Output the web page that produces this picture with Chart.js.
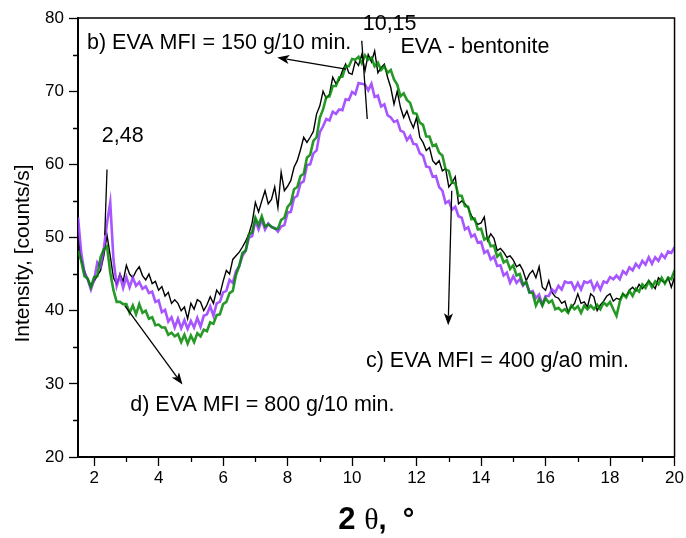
<!DOCTYPE html>
<html>
<head>
<meta charset="utf-8">
<script src="https://cdn.jsdelivr.net/npm/chart.js@4/dist/chart.umd.min.js"></script>
<style>
html,body{margin:0;padding:0;background:#fff;}
#wrap{width:686px;height:538px;position:relative;}
</style>
</head>
<body>
<div id="wrap"><canvas id="c" width="686" height="538"></canvas></div>
<script>
// ---- data (2θ grid from 1.5 to 20, step 0.1) ----
const X_START = 1.5;
const X_STEP = 0.1;
// b) EVA MFI = 150 g/10 min. (black)
const seriesB = [
50.0,47.0,45.5,44.2,43.5,44.0,44.8,45.5,47.5,50.3,
47.5,44.5,43.6,45.0,44.0,46.2,45.0,44.5,45.4,46.0,
44.8,44.2,45.0,43.7,44.0,42.8,43.3,42.0,42.5,41.0,
41.5,41.0,40.0,40.5,38.9,41.0,40.2,41.5,41.2,40.0,
40.8,41.9,41.0,42.8,42.2,44.0,45.5,45.0,47.0,47.5,
48.0,48.7,49.5,50.5,52.0,54.8,53.5,55.0,56.4,54.6,
55.2,56.9,54.1,58.9,56.4,57.0,57.8,59.6,60.5,62.0,
63.7,63.0,63.7,64.5,66.9,68.0,70.0,69.0,69.6,71.9,
71.0,71.5,72.8,73.7,72.5,72.3,74.1,73.5,75.0,72.8,
75.0,74.0,75.5,72.5,73.2,73.7,71.9,70.5,68.2,70.0,
67.8,66.4,67.3,66.0,65.0,66.4,63.7,63.0,61.9,62.3,
60.5,60.0,60.5,59.1,59.4,56.9,57.5,58.3,54.6,55.0,
54.6,54.1,53.0,52.3,51.8,52.0,52.8,49.6,50.5,49.9,
48.2,48.5,48.0,47.3,47.5,46.9,46.0,46.3,45.5,44.1,
45.0,45.5,44.5,46.0,43.2,42.8,44.1,42.5,41.9,41.7,
41.0,41.3,39.8,40.5,41.0,42.3,41.0,41.2,40.5,42.3,
41.9,40.0,40.8,41.3,42.0,42.3,41.3,41.7,41.5,42.3,
42.0,42.8,43.2,42.7,43.6,43.0,43.5,44.1,43.6,43.0,
44.5,44.1,43.8,44.5,43.2,44.6];
// c) EVA MFI = 400 g/10 min. (violet)
const seriesC = [
52.8,47.9,45.2,44.3,42.9,44.2,46.6,46.0,48.4,52.0,
54.8,47.0,43.4,44.8,43.1,44.6,43.2,44.5,43.4,43.9,
43.0,43.3,42.4,42.6,41.2,41.4,39.8,40.1,38.5,39.1,
37.7,38.9,37.6,38.7,37.5,38.6,37.7,39.0,37.8,39.3,
39.5,40.6,39.3,41.0,41.2,42.5,42.7,44.2,43.8,45.4,
46.1,47.5,48.2,50.0,50.2,52.3,51.1,52.4,51.1,51.9,
51.4,51.3,50.8,51.5,51.7,53.4,53.5,55.4,55.7,57.4,
57.7,59.9,60.0,61.5,61.9,64.4,65.2,66.2,66.0,67.2,
66.9,67.5,67.4,68.9,68.8,69.9,69.6,71.1,71.0,70.9,
70.1,71.0,69.2,69.4,67.9,68.2,66.7,66.4,65.8,66.0,
64.6,64.4,63.3,63.9,62.8,62.7,61.5,61.2,59.7,59.6,
58.3,58.4,56.9,56.4,54.7,55.0,53.8,54.2,52.9,52.7,
51.1,51.4,50.1,50.4,49.3,49.4,47.9,48.2,47.0,47.4,
46.1,46.2,44.8,45.2,43.8,44.7,43.8,44.3,43.4,43.9,
42.5,42.7,41.7,42.2,40.8,42.0,42.0,42.9,42.5,43.4,
42.9,44.0,43.8,43.9,42.9,43.8,42.9,44.0,43.8,44.1,
42.9,43.8,42.9,44.0,43.8,44.6,44.3,44.8,44.3,45.4,
45.0,45.9,45.5,46.4,45.9,46.8,46.3,47.3,46.4,47.3,
46.8,47.7,47.2,48.1,47.9,48.7];
// d) EVA MFI = 800 g/10 min. (green)
const seriesD = [
48.2,46.8,44.7,44.4,43.2,44.6,44.7,47.3,48.4,48.8,
45.2,42.8,41.2,41.2,40.9,40.9,39.7,40.7,39.5,40.9,
39.7,40.0,38.9,39.1,38.0,38.1,37.7,37.7,36.7,37.0,
36.5,36.8,35.7,36.7,35.5,36.6,35.7,36.9,36.5,37.4,
37.2,38.4,38.2,39.4,39.5,40.9,41.2,42.4,42.7,44.9,
46.1,47.9,48.2,50.4,50.7,52.7,51.7,52.9,51.5,51.8,
51.5,51.2,51.2,52.4,52.7,54.2,54.7,56.6,56.9,58.4,
58.7,60.9,61.3,63.2,63.7,66.4,67.5,69.2,69.3,70.7,
70.7,71.9,72.0,73.4,73.4,74.4,74.3,74.7,73.8,74.9,
74.3,74.6,73.4,73.9,72.9,73.4,72.5,72.9,71.6,70.9,
69.3,69.7,68.8,68.4,67.0,66.9,65.7,65.4,63.8,63.8,
62.5,62.7,61.6,61.2,59.3,59.1,57.5,57.4,55.7,55.7,
54.3,54.2,52.5,52.6,51.1,51.2,49.7,50.0,48.8,48.9,
47.4,47.8,46.6,46.9,45.7,46.2,44.8,45.0,43.6,43.9,
42.5,42.4,40.7,41.6,40.7,41.7,41.1,41.4,40.2,40.4,
39.9,40.2,39.7,40.7,40.2,40.6,39.7,40.7,40.2,40.7,
40.2,40.8,40.2,41.1,40.7,41.2,40.2,39.3,41.2,42.3,
41.8,42.7,42.0,43.0,42.6,43.6,43.1,44.0,43.2,44.0,
43.6,44.5,43.7,44.5,44.3,45.5];

// ---- axes ----
const X_MAJOR = [2,4,6,8,10,12,14,16,18,20];
const X_MINOR = [3,5,7,9,11,13,15,17,19];
const Y_MAJOR = [20,30,40,50,60,70,80];
const Y_MINOR = [25,35,45,55,65,75];
const Y_TITLE = 'Intensity, [counts/s]';

// ---- annotations (data coordinates) ----
const LABELS = [
  {text:'b) EVA MFI = 150 g/10 min.', x:1.78, y:75.8},
  {text:'10,15', x:10.33, y:78.4},
  {text:'EVA - bentonite', x:11.5, y:75.2},
  {text:'2,48', x:2.24, y:63.0},
  {text:'c) EVA MFI = 400 g/a0 min.', x:10.43, y:32.3},
  {text:'d) EVA MFI = 800 g/10 min.', x:3.12, y:26.3}
];
const LEADERS = [ // [x1,y1,x2,y2,arrow]
  [9.81,73.0,7.68,74.6,true],
  [10.30,76.9,10.47,66.2,false],
  [2.40,59.3,2.33,50.3,false],
  [13.09,56.4,12.98,38.0,true],
  [2.95,40.7,4.74,29.9,true]
];

const pts = vals => vals.map((v,i)=>({x: +(X_START + i*X_STEP).toFixed(2), y: v}));
const FONT = "'Liberation Sans', Arial, sans-serif";

const decor = {
  id:'decor',
  afterDraw(chart){
    const ctx = chart.ctx, a = chart.chartArea;
    const xs = chart.scales.x, ys = chart.scales.y;
    ctx.save();
    // frame top/right
    ctx.strokeStyle = '#000';
    ctx.lineWidth = 1.5;
    ctx.beginPath();
    ctx.moveTo(a.left, a.top); ctx.lineTo(a.right, a.top); ctx.lineTo(a.right, a.bottom);
    ctx.stroke();
    // minor ticks
    ctx.lineWidth = 1.3;
    ctx.beginPath();
    X_MINOR.forEach(v=>{const p = Math.round(xs.getPixelForValue(v))+0.5; ctx.moveTo(p,a.bottom); ctx.lineTo(p,a.bottom+5);});
    Y_MINOR.forEach(v=>{const p = Math.round(ys.getPixelForValue(v))+0.5; ctx.moveTo(a.left-5,p); ctx.lineTo(a.left,p);});
    ctx.stroke();
    // annotations
    ctx.fillStyle = '#000';
    ctx.font = '21.5px ' + FONT;
    ctx.textBaseline = 'alphabetic';
    ctx.textAlign = 'left';
    LABELS.forEach(l=>ctx.fillText(l.text, xs.getPixelForValue(l.x), ys.getPixelForValue(l.y)));
    ctx.lineWidth = 1.3;
    LEADERS.forEach(([x1,y1,x2,y2,arr])=>{
      const p1x = xs.getPixelForValue(x1), p1y = ys.getPixelForValue(y1);
      const p2x = xs.getPixelForValue(x2), p2y = ys.getPixelForValue(y2);
      const ang = Math.atan2(p2y-p1y, p2x-p1x);
      const L = 12, W = 4.5;
      const ex = arr ? p2x - Math.cos(ang)*L*0.8 : p2x, ey = arr ? p2y - Math.sin(ang)*L*0.8 : p2y;
      ctx.beginPath(); ctx.moveTo(p1x,p1y); ctx.lineTo(ex,ey); ctx.stroke();
      if(arr){
        const bx = p2x - Math.cos(ang)*L, by = p2y - Math.sin(ang)*L;
        ctx.beginPath();
        ctx.moveTo(p2x,p2y);
        ctx.lineTo(bx - Math.sin(ang)*W, by + Math.cos(ang)*W);
        ctx.lineTo(p2x - Math.cos(ang)*L*0.75, p2y - Math.sin(ang)*L*0.75);
        ctx.lineTo(bx + Math.sin(ang)*W, by - Math.cos(ang)*W);
        ctx.closePath(); ctx.fill();
      }
    });
    // y title
    ctx.save();
    ctx.translate(23, (a.top + a.bottom)/2 + 16);
    ctx.rotate(-Math.PI/2);
    ctx.textAlign = 'center'; ctx.textBaseline = 'middle';
    ctx.font = '21px ' + FONT;
    ctx.fillText(Y_TITLE, 0, 0);
    ctx.restore();
    // x title: "2 θ, °"
    const parts = [
      {t:'2', f:'bold 31px ' + FONT},
      {t:' ', f:'bold 31px ' + FONT},
      {t:'θ', f:"30px 'Liberation Serif', 'Times New Roman', serif"},
      {t:',  °', f:'bold 29px ' + FONT}
    ];
    let tw = 0;
    parts.forEach(p=>{ctx.font = p.f; p.w = ctx.measureText(p.t).width; tw += p.w;});
    let cx = (a.left + a.right)/2 - tw/2;
    ctx.textAlign = 'left'; ctx.textBaseline = 'alphabetic';
    parts.forEach(p=>{ctx.font = p.f; ctx.fillText(p.t, cx, 529); cx += p.w;});
    ctx.restore();
  }
};

new Chart(document.getElementById('c'), {
  type:'line',
  data:{
    datasets:[
      {label:'d) EVA MFI = 800 g/10 min.', data:pts(seriesD), borderColor:'rgba(0,135,0,0.85)', borderWidth:2.6},
      {label:'c) EVA MFI = 400 g/10 min.', data:pts(seriesC), borderColor:'rgba(150,55,255,0.85)', borderWidth:2.6},
      {label:'b) EVA MFI = 150 g/10 min.', data:pts(seriesB), borderColor:'#000', borderWidth:1.4}
    ]
  },
  options:{
    responsive:false,
    animation:false,
    devicePixelRatio:1,
    layout:{padding:{left:0, top:18, right:8, bottom:0}},
    elements:{point:{radius:0}, line:{tension:0}},
    plugins:{legend:{display:false}, tooltip:{enabled:false}},
    scales:{
      x:{
        type:'linear', min:1.5, max:20,
        afterBuildTicks: s => { s.ticks = X_MAJOR.map(v=>({value:v})); },
        afterFit: s => { s.height = 81; },
        ticks:{color:'#000', font:{family:FONT, size:17}, padding:2, maxRotation:0, autoSkip:false,
               callback: v => String(v)},
        grid:{display:true, drawOnChartArea:false, drawTicks:true, tickLength:9, tickWidth:1.3, tickColor:'#000'},
        border:{display:true, color:'#000', width:2}
      },
      y:{
        type:'linear', min:20, max:80,
        afterBuildTicks: s => { s.ticks = Y_MAJOR.map(v=>({value:v})); },
        afterFit: s => { s.width = 78; },
        ticks:{color:'#000', font:{family:FONT, size:17}, padding:5, autoSkip:false,
               callback: v => String(v)},
        grid:{display:true, drawOnChartArea:false, drawTicks:true, tickLength:9, tickWidth:1.3, tickColor:'#000'},
        border:{display:true, color:'#000', width:2}
      }
    }
  },
  plugins:[decor]
});
</script>
</body>
</html>
